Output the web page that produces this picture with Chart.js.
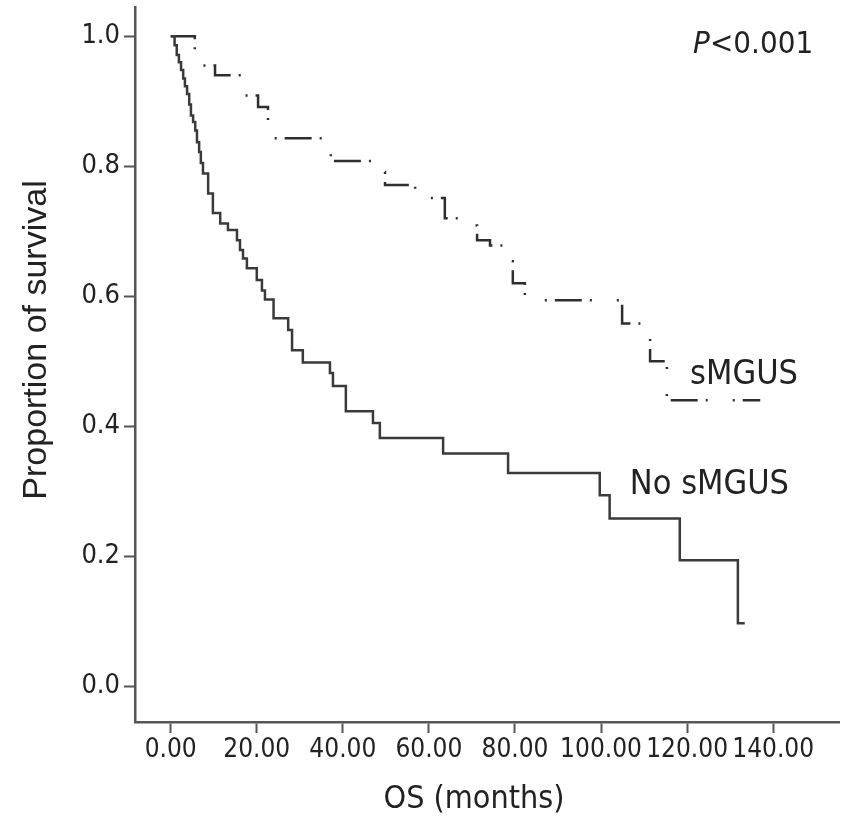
<!DOCTYPE html>
<html>
<head>
<meta charset="utf-8">
<script src="https://cdn.jsdelivr.net/npm/chart.js@4.4.1/dist/chart.umd.min.js"></script>
<style>
  html, body { margin: 0; padding: 0; background: #fff; }
</style>
</head>
<body>
<canvas id="km" width="858" height="821"></canvas>
<script>
// Kaplan-Meier curves: time of each drop (months) and survival after it
const timeNoSmgus = [0, 0.9, 1.4, 1.9, 2.4, 2.9, 3.3, 3.8, 4.3, 4.7, 5.2, 5.7, 6.1, 6.6, 7.0, 7.5,
  8.7, 9.8, 11.5, 13.3, 15.4, 16.1, 16.8, 17.7, 20.0, 21.2, 21.9, 23.9, 27.3, 28.2, 30.7,
  37.0, 37.7, 40.7, 47.0, 48.6, 63.3, 78.4, 99.7, 102.0, 118.3, 131.8, 133.4];
const survNoSmgus = [1.0, 0.986, 0.971, 0.960, 0.948, 0.935, 0.923, 0.911, 0.895, 0.878, 0.868, 0.855, 0.837, 0.822, 0.805, 0.789,
  0.758, 0.728, 0.712, 0.702, 0.686, 0.671, 0.658, 0.643, 0.625, 0.609, 0.595, 0.566, 0.548, 0.517, 0.498,
  0.482, 0.462, 0.423, 0.405, 0.382, 0.358, 0.328, 0.294, 0.258, 0.194, 0.097, 0.097];

const timeSmgus = [0, 5.6, 10.3, 17.3, 20.3, 22.6, 37.2, 47.0, 49.8, 56.8, 63.7, 67.4, 71.2, 74.2,
  78.6, 79.5, 82.3, 104.9, 111.4, 115.3, 137.0];
const survSmgus = [1.0, 0.955, 0.94, 0.909, 0.891, 0.843, 0.808, 0.791, 0.771, 0.751, 0.72, 0.709, 0.686, 0.678,
  0.654, 0.62, 0.594, 0.558, 0.50, 0.44, 0.44];

const xTickValues = [0, 20, 40, 60, 80, 100, 120, 140];
const yTickValues = [0, 0.2, 0.4, 0.6, 0.8, 1.0];

const NARROW = '"Liberation Sans Narrow", "Arial Narrow", "DejaVu Sans Condensed", sans-serif';
const INK = '#222';
const AXIS = '#555';

const toPoints = (ts, ss) => ts.map((t, i) => ({ x: t, y: ss[i] }));

// curve labels, p value and axis titles
const labelsPlugin = {
  id: 'kmLabels',
  afterDraw(chart) {
    const { ctx, scales: { x, y } } = chart;
    ctx.save();
    ctx.fillStyle = INK;
    ctx.textBaseline = 'middle';
    ctx.textAlign = 'left';

    let px = x.getPixelForValue(121.4);
    const py = y.getPixelForValue(0.986);
    ctx.font = 'italic 31px ' + NARROW;
    ctx.fillText('P', px, py);
    px += ctx.measureText('P').width;
    ctx.font = '31px ' + NARROW;
    ctx.fillText('<0.001', px, py);

    ctx.font = '34px ' + NARROW;
    ctx.fillText('sMGUS', x.getPixelForValue(120.7), y.getPixelForValue(0.478));
    ctx.fillText('No sMGUS', x.getPixelForValue(106.7), y.getPixelForValue(0.309));

    ctx.textAlign = 'center';
    ctx.font = '32px ' + NARROW;
    ctx.fillText('OS (months)', 474, 800);

    ctx.translate(37, 340);
    ctx.rotate(-Math.PI / 2);
    ctx.font = '34px "Liberation Sans", Arial, sans-serif';
    ctx.fillText('Proportion of survival', 0, 0);
    ctx.restore();
  }
};

new Chart(document.getElementById('km'), {
  type: 'line',
  data: {
    datasets: [
      {
        label: 'No sMGUS',
        data: toPoints(timeNoSmgus, survNoSmgus),
        borderColor: '#3a3a3a',
        borderWidth: 2.5,
        stepped: 'before',
        pointRadius: 0,
        fill: false
      },
      {
        label: 'sMGUS',
        data: toPoints(timeSmgus, survSmgus),
        borderColor: '#2e2e2e',
        borderWidth: 2.5,
        borderDash: [27, 8, 2, 25, 2, 8],
        stepped: 'before',
        pointRadius: 0,
        fill: false
      }
    ]
  },
  options: {
    responsive: false,
    animation: false,
    devicePixelRatio: 1,
    layout: { padding: { top: 7, right: 19, left: 0, bottom: 0 } },
    plugins: { legend: { display: false }, tooltip: { enabled: false } },
    scales: {
      x: {
        type: 'linear',
        min: -8.3,
        max: 155.3,
        afterBuildTicks: (axis) => { axis.ticks = xTickValues.map(v => ({ value: v })); },
        afterFit: (axis) => { axis.height = 99; axis.paddingLeft = 0; axis.paddingRight = 0; },
        ticks: {
          callback: (v) => Number(v).toFixed(2),
          font: { family: NARROW, size: 26 },
          color: INK,
          padding: 2,
          maxRotation: 0,
          autoSkip: false
        },
        grid: { drawOnChartArea: false, drawTicks: true, tickLength: 11, tickColor: AXIS, tickWidth: 2 },
        border: { display: true, color: AXIS, width: 2.5 }
      },
      y: {
        type: 'linear',
        min: -0.055,
        max: 1.045,
        afterBuildTicks: (axis) => { axis.ticks = yTickValues.map(v => ({ value: v })); },
        afterFit: (axis) => { axis.width = 135; axis.paddingTop = 0; axis.paddingBottom = 0; },
        ticks: {
          callback: (v) => Number(v).toFixed(1),
          font: { family: NARROW, size: 27 },
          color: INK,
          padding: 4,
          autoSkip: false
        },
        grid: { drawOnChartArea: false, drawTicks: true, tickLength: 11, tickColor: AXIS, tickWidth: 2 },
        border: { display: true, color: AXIS, width: 2.5 }
      }
    }
  },
  plugins: [labelsPlugin]
});
</script>
</body>
</html>
